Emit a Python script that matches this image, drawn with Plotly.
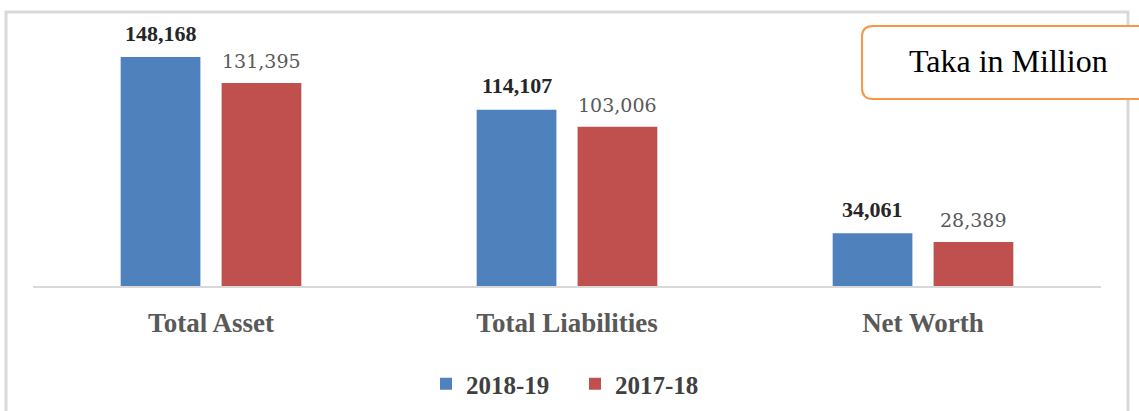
import plotly.graph_objects as go

# Balance sheet summary (Taka in Million)
categories = ["Total Asset", "Total Liabilities", "Net Worth"]
series_names = ["2018-19", "2017-18"]
values_2018_19 = [148168, 114107, 34061]
values_2017_18 = [131395, 103006, 28389]

BLUE = "#4f81bd"
RED = "#c0504d"
SERIF = "Liberation Serif"

W, H = 1139, 411
M_L, M_R, M_T, M_B = 33, W - 1101, 20, H - 286
PLOT_W = W - M_L - M_R
PLOT_H = H - M_T - M_B


def px_x(px):
    """Pixel x -> paper x."""
    return (px - M_L) / PLOT_W


def px_y(py):
    """Pixel y (from top) -> paper y."""
    return (H - M_B - py) / PLOT_H


fig = go.Figure()
fig.add_trace(go.Bar(x=categories, y=values_2018_19,
                     name=f"<b>{series_names[0]}</b>",
                     marker=dict(color=BLUE, line=dict(width=0))))
fig.add_trace(go.Bar(x=categories, y=values_2017_18,
                     name=f"<b>{series_names[1]}</b>",
                     marker=dict(color=RED, line=dict(width=0))))

# value labels above each bar
half_offset = PLOT_W / len(categories) * (1 - 0.433) / 4
for cat, v in zip(categories, values_2018_19):
    fig.add_annotation(x=cat, y=v, xref="x", yref="y", text=f"<b>{v:,}</b>",
                       showarrow=False, xshift=-half_offset, yshift=24,
                       yanchor="middle",
                       font=dict(family=SERIF, size=22, color="#262626"))
for cat, v in zip(categories, values_2017_18):
    fig.add_annotation(x=cat, y=v, xref="x", yref="y", text=f"{v:,}",
                       showarrow=False, xshift=half_offset, yshift=22,
                       yanchor="middle",
                       font=dict(family="DejaVu Serif", size=19, color="#595959"))

# outer chart frame
fig.add_shape(type="rect", xref="paper", yref="paper",
              x0=px_x(6), x1=px_x(1128), y0=px_y(440), y1=px_y(12),
              line=dict(color="#d9d9d9", width=3), fillcolor="rgba(0,0,0,0)",
              layer="below")

# rounded unit box
bx0, bx1, by0, by1, r = 862, 1160, 26, 99, 11
path = (
    f"M {px_x(bx0 + r)},{px_y(by0)} L {px_x(bx1)},{px_y(by0)} "
    f"L {px_x(bx1)},{px_y(by1)} L {px_x(bx0 + r)},{px_y(by1)} "
    f"Q {px_x(bx0)},{px_y(by1)} {px_x(bx0)},{px_y(by1 - r)} "
    f"L {px_x(bx0)},{px_y(by0 + r)} "
    f"Q {px_x(bx0)},{px_y(by0)} {px_x(bx0 + r)},{px_y(by0)} Z"
)
fig.add_shape(type="path", path=path, xref="paper", yref="paper",
              line=dict(color="#f79646", width=2), fillcolor="white")
fig.add_annotation(x=px_x(1008), y=px_y(61), xref="paper", yref="paper",
                   text="Taka in Million", showarrow=False,
                   xanchor="center", yanchor="middle",
                   font=dict(family=SERIF, size=32, color="black"))

y_max = PLOT_H / (229 / 148168)

fig.update_layout(
    width=W, height=H,
    margin=dict(l=M_L, r=M_R, t=M_T, b=M_B, pad=0, autoexpand=False),
    paper_bgcolor="white", plot_bgcolor="white",
    barmode="group", bargap=0.433, bargroupgap=0.21,
    showlegend=True,
    legend=dict(orientation="h", x=px_x(575), xanchor="center",
                y=px_y(384), yanchor="middle",
                font=dict(family=SERIF, size=25, color="#404040"),
                entrywidth=104, entrywidthmode="pixels",
                itemclick=False, traceorder="normal"),
    xaxis=dict(showline=True, linecolor="#d9d9d9", linewidth=1.5,
               showgrid=False, ticks="", range=[-0.5, 2.5],
               tickvals=categories,
               ticktext=[f"<b>{c}</b>" for c in categories],
               tickfont=dict(family=SERIF, size=27, color="#595959"),
               ticklabelstandoff=12, automargin=False),
    yaxis=dict(visible=False, range=[0, y_max], showgrid=False,
               zeroline=False, automargin=False),
)

fig.write_html("out.html")
